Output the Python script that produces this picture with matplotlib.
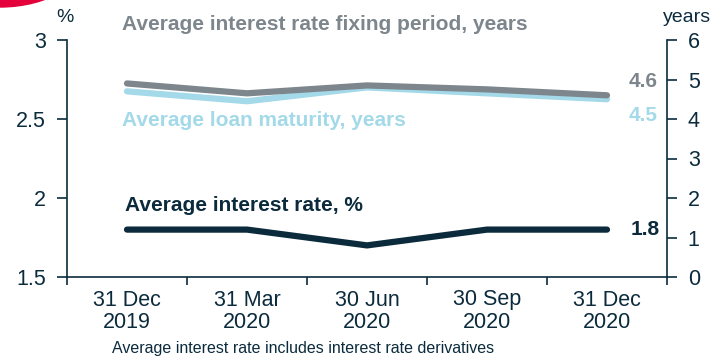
import matplotlib.pyplot as plt
from matplotlib.patches import Ellipse

plt.rcParams['font.family'] = ['Liberation Sans', 'DejaVu Sans']

# data
dates = ["31 Dec\n2019", "31 Mar\n2020", "30 Jun\n2020", "30 Sep\n2020", "31 Dec\n2020"]
avg_rate = [1.8, 1.8, 1.7, 1.8, 1.8]              # %, left axis
fixing_period = [4.9, 4.65, 4.85, 4.75, 4.6]       # years, right axis
loan_maturity = [4.7, 4.45, 4.8, 4.65, 4.5]        # years, right axis

NAVY = "#0b2b3d"
GREY = "#7d868c"
LIGHTBLUE = "#a3d9e8"

fig = plt.figure(figsize=(7.19, 3.58), dpi=100)
ax = fig.add_axes([67/719, 81/358, 600/719, 237/358])
ax2 = ax.twinx()

x = [i + 0.5 for i in range(len(dates))]

ax2.plot(x, loan_maturity, color=LIGHTBLUE, lw=4.5, solid_capstyle="round", solid_joinstyle="round")
ax2.plot(x, fixing_period, color=GREY, lw=4.5, solid_capstyle="round", solid_joinstyle="round")
ax.plot(x, avg_rate, color=NAVY, lw=4.5, solid_capstyle="round", solid_joinstyle="round")

ax.set_xlim(0, 5)
ax.set_ylim(1.5, 3)
ax2.set_ylim(0, 6)
ax.set_yticks([1.5, 2, 2.5, 3])
ax.set_yticklabels(["1.5", "2", "2.5", "3"])
ax2.set_yticks(range(7))

ax.set_xticks(range(6))
ax.set_xticklabels([])
ax.set_xticks(x, minor=True)
ax.set_xticklabels(dates, minor=True, linespacing=1.1)
ax.tick_params(axis="x", which="minor", length=0, pad=9, labelsize=15.5, labelcolor=NAVY)
ax.tick_params(axis="x", which="major", length=6, width=1.2, color=NAVY)
ax.tick_params(axis="y", length=7, width=1.2, color=NAVY, labelsize=15.5, labelcolor=NAVY, pad=8)
ax2.tick_params(axis="y", length=7, width=1.2, color=NAVY, labelsize=15.5, labelcolor=NAVY, pad=8)

for a in (ax, ax2):
    a.spines["top"].set_visible(False)
    for s in ("left", "right", "bottom"):
        a.spines[s].set_color(NAVY)
        a.spines[s].set_linewidth(1.2)
ax.spines["right"].set_visible(False)
ax2.spines["left"].set_visible(False)
ax2.spines["bottom"].set_visible(False)

# series labels
ax.text(0.46, 3.1, "Average interest rate fixing period, years", color=GREY,
        fontsize=15, fontweight="bold", va="center", clip_on=False)
ax.text(0.46, 2.49, "Average loan maturity, years", color=LIGHTBLUE,
        fontsize=15, fontweight="bold", va="center")
ax.text(0.48, 1.955, "Average interest rate, %", color=NAVY,
        fontsize=15, fontweight="bold", va="center")

# end values
ax2.text(4.92, 4.94, f"{fixing_period[-1]:.1f}", color=GREY,
         fontsize=15, fontweight="bold", ha="right", va="center")
ax2.text(4.92, 4.1, f"{loan_maturity[-1]:.1f}", color=LIGHTBLUE,
         fontsize=15, fontweight="bold", ha="right", va="center")
ax.text(4.94, avg_rate[-1], f"{avg_rate[-1]:.1f}", color=NAVY,
        fontsize=15, fontweight="bold", ha="right", va="center")

# axis units
fig.text(65/719, 1 - 18/358, "%", color=NAVY, fontsize=14, ha="center", va="center")
fig.text(687/719, 1 - 18/358, "years", color=NAVY, fontsize=14, ha="center", va="center")

fig.text(303/719, 1 - 349/358, "Average interest rate includes interest rate derivatives",
         color=NAVY, fontsize=11.5, ha="center", va="center")

# corner decoration
fig.patches.append(Ellipse((0, 1 + 50/358), 180/719, 114/358, transform=fig.transFigure,
                           color="#e4003a", clip_on=False))

fig.savefig("out.png", dpi=100)
